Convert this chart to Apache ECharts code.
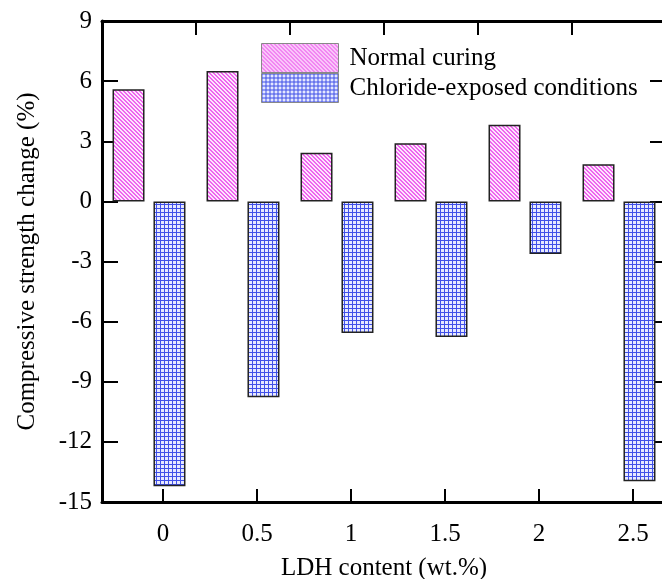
<!DOCTYPE html>
<html>
<head>
<meta charset="utf-8">
<script src="https://cdn.jsdelivr.net/npm/echarts@6/dist/echarts.min.js"></script>
<style>
    html, body {margin: 0; padding: 0; background: #fff;}
    #main {width: 662px; height: 579px;}
</style>
</head>
<body>
<div id="main"></div>
<script>
    // 数据
    let categories = ['0', '0.5', '1', '1.5', '2', '2.5'];
    let tickValues = [0, 0.5, 1, 1.5, 2, 2.5];
    let normalCuring = [5.6, 6.5, 2.43, 2.9, 3.82, 1.85];
    let chlorideExposed = [-14.22, -9.77, -6.57, -6.77, -2.62, -13.97];

    // 填充图案
    let makePattern = (size, draw) => {
        let c = document.createElement('canvas');
        c.width = size;
        c.height = size;
        draw(c.getContext('2d'));
        return c;
    };
    let pinkPattern = makePattern(4, ctx => {
        ctx.fillStyle = '#fde6fd';
        ctx.fillRect(0, 0, 4, 4);
        ctx.fillStyle = '#ef66ef';
        for (let i = 0; i < 4; i++) {
            ctx.fillRect(i, i, 1, 1);
            ctx.fillRect((i + 1) % 4, i, 1, 1);
        }
    });
    let bluePattern = makePattern(4, ctx => {
        ctx.fillStyle = '#e6e8ff';
        ctx.fillRect(0, 0, 4, 4);
        ctx.fillStyle = '#4050e8';
        ctx.fillRect(0, 0, 4, 1);
        ctx.fillRect(0, 0, 1, 4);
    });

    let font = '"Liberation Serif", "Times New Roman", serif';
    let axisLine = {show: true, onZero: false, lineStyle: {color: '#000', width: 3}};

    let chart = echarts.init(document.getElementById('main'));
    let option = {
        animation: false,
        grid: {left: 102, right: -4, top: 21, bottom: 77, containLabel: false, outerBoundsMode: 'none'},
        legend: {
            orient: 'vertical',
            left: 261,
            top: 43,
            padding: 0,
            itemWidth: 77,
            itemHeight: 29,
            itemGap: 0,
            icon: 'rect',
            itemStyle: {borderColor: '#888', borderWidth: 1},
            textStyle: {fontFamily: font, fontSize: 25, color: '#000', lineHeight: 29, padding: [0, 0, 0, 6]},
            data: ['Normal curing', 'Chloride-exposed conditions']
        },
        xAxis: [
            {
                // 上方轴，柱子用
                type: 'category',
                position: 'top',
                data: categories,
                boundaryGap: true,
                axisLine: axisLine,
                axisTick: {show: true, inside: true, length: 14, lineStyle: {color: '#000', width: 2}},
                axisLabel: {show: false},
                splitLine: {show: false}
            },
            {
                // 下方轴，刻度标签
                type: 'value',
                position: 'bottom',
                min: -0.3245,
                max: 2.6755,
                axisLine: axisLine,
                axisTick: {show: true, inside: true, length: 13, customValues: tickValues, lineStyle: {color: '#000', width: 2}},
                axisLabel: {customValues: tickValues, margin: 20, fontFamily: font, fontSize: 25, color: '#000'},
                splitLine: {show: false},
                name: 'LDH content (wt.%)',
                nameLocation: 'middle',
                nameGap: 54,
                nameTextStyle: {fontFamily: font, fontSize: 25, color: '#000'}
            }
        ],
        yAxis: [
            {
                type: 'value',
                position: 'left',
                min: -15,
                max: 9,
                interval: 3,
                axisLine: axisLine,
                axisTick: {show: true, inside: true, length: 16, lineStyle: {color: '#000', width: 2}},
                axisLabel: {margin: 10, fontFamily: font, fontSize: 25, color: '#000'},
                splitLine: {show: false},
                name: 'Compressive strength change (%)',
                nameLocation: 'middle',
                nameGap: 62,
                nameTextStyle: {fontFamily: font, fontSize: 25, color: '#000'}
            },
            {
                // 右轴在画面外，只留刻度
                type: 'value',
                position: 'right',
                min: -15,
                max: 9,
                interval: 3,
                axisLine: {show: false, onZero: false},
                axisTick: {show: true, inside: true, length: 16, lineStyle: {color: '#000', width: 2}},
                axisLabel: {show: false},
                splitLine: {show: false}
            }
        ],
        series: [
            {
                name: 'Normal curing',
                type: 'bar',
                xAxisIndex: 0,
                yAxisIndex: 0,
                barWidth: 32,
                barGap: '28%',
                data: normalCuring,
                itemStyle: {color: {image: pinkPattern, repeat: 'repeat'}, borderColor: '#222', borderWidth: 1.5}
            },
            {
                name: 'Chloride-exposed conditions',
                type: 'bar',
                xAxisIndex: 0,
                yAxisIndex: 0,
                barWidth: 32,
                barGap: '28%',
                data: chlorideExposed,
                itemStyle: {color: {image: bluePattern, repeat: 'repeat'}, borderColor: '#222', borderWidth: 1.5}
            }
        ]
    };
    chart.setOption(option);
</script>
</body>
</html>
